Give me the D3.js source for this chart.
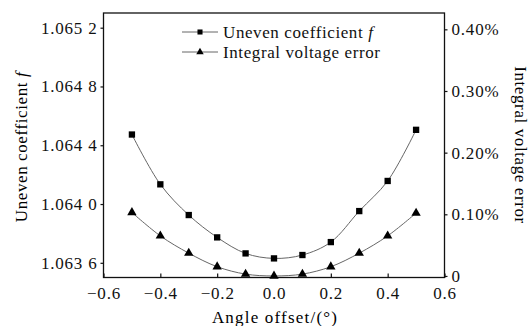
<!DOCTYPE html>
<html>
<head>
<meta charset="utf-8">
<script src="https://cdn.jsdelivr.net/npm/d3@7"></script>
<style>
  html, body { margin: 0; padding: 0; background: #fff; }
  svg { display: block; }
  svg text { font-family: "Times New Roman", Times, "Liberation Serif", "DejaVu Serif", serif; }
  .tick text { font-size: 17px; letter-spacing: 0.8px; fill: #111; }
</style>
</head>
<body>
<div id="chart"></div>
<script>
// angle offset in degrees
const angles = [-0.5, -0.4, -0.3, -0.2, -0.1, 0, 0.1, 0.2, 0.3, 0.4, 0.5];
// uneven coefficient f (left axis)
const uneven = [1.064473, 1.064134, 1.063925, 1.063773, 1.063664, 1.063630,
                1.063653, 1.063741, 1.063952, 1.064157, 1.064505];
// integral voltage error, in percent (right axis)
const voltErr = [0.103, 0.065, 0.037, 0.015, 0.003, 0.0, 0.003, 0.015, 0.037, 0.065, 0.102];

const xTicks = [-0.6, -0.4, -0.2, 0, 0.2, 0.4, 0.6];
const leftTicks = [1.0636, 1.0640, 1.0644, 1.0648, 1.0652];
const leftTickLabels = ['1.063 6', '1.064 0', '1.064 4', '1.064 8', '1.065 2'];
const rightTicks = [0, 0.1, 0.2, 0.3, 0.4];
const rightTickLabels = ['0', '0.10%', '0.20%', '0.30%', '0.40%'];
const seriesNames = ['Uneven coefficient ', 'Integral voltage error'];

const W = 529, H = 326;
const m = { left: 103.5, right: 444.5, top: 13, bottom: 277.5 };
const SERIF = '"Times New Roman", Times, "Liberation Serif", "DejaVu Serif", serif';

const svg = d3.select('#chart').append('svg').attr('width', W).attr('height', H)
  .attr('font-family', SERIF);

const x = d3.scaleLinear().domain([-0.6, 0.6]).range([m.left, m.right]);
const yL = d3.scaleLinear().domain([1.0635, 1.0653]).range([m.bottom, m.top]);
const yR = d3.scaleLinear().domain([-0.0025, 0.4265]).range([m.bottom, m.top]);

// frame
svg.append('rect')
  .attr('x', m.left).attr('y', m.top)
  .attr('width', m.right - m.left).attr('height', m.bottom - m.top)
  .attr('fill', 'none').attr('stroke', '#111').attr('stroke-width', 1.3);

const styleAxis = g => {
  g.attr('font-family', SERIF);
  g.select('.domain').remove();
  g.selectAll('.tick line').attr('stroke', '#111').attr('stroke-width', 1.2);
};

svg.append('g')
  .attr('transform', `translate(0,${m.bottom})`)
  .call(d3.axisBottom(x).tickValues(xTicks).tickSize(-4).tickPadding(9)
    .tickFormat(d3.format('.1f')))
  .call(styleAxis);

svg.append('g')
  .attr('transform', `translate(${m.left},0)`)
  .call(d3.axisLeft(yL).tickValues(leftTicks).tickSize(3).tickPadding(3)
    .tickFormat((d, i) => leftTickLabels[i]))
  .call(styleAxis);

svg.append('g')
  .attr('transform', `translate(${m.right},0)`)
  .call(d3.axisRight(yR).tickValues(rightTicks).tickSize(3).tickPadding(4)
    .tickFormat((d, i) => rightTickLabels[i]))
  .call(styleAxis);

// series (smoothed through the points, like the original plot)
const lineL = d3.line().x((d, i) => x(angles[i])).y(d => yL(d)).curve(d3.curveCatmullRom);
const lineR = d3.line().x((d, i) => x(angles[i])).y(d => yR(d)).curve(d3.curveCatmullRom);

svg.append('path').attr('d', lineL(uneven))
  .attr('fill', 'none').attr('stroke', '#666').attr('stroke-width', 1);
svg.append('path').attr('d', lineR(voltErr))
  .attr('fill', 'none').attr('stroke', '#666').attr('stroke-width', 1);

const sq = d3.symbol().type(d3.symbolSquare).size(40);
const tri = d3.symbol().type(d3.symbolTriangle).size(38);

svg.append('g').selectAll('path').data(uneven).join('path')
  .attr('transform', (d, i) => `translate(${x(angles[i])},${yL(d)})`)
  .attr('d', sq).attr('fill', '#000');
svg.append('g').selectAll('path').data(voltErr).join('path')
  .attr('transform', (d, i) => `translate(${x(angles[i])},${yR(d)})`)
  .attr('d', tri).attr('fill', '#000');

// legend
const lg = svg.append('g').attr('font-size', 17).attr('fill', '#111');
[[sq, 32], [tri, 52]].forEach(([sym, ly], i) => {
  lg.append('line').attr('x1', 182).attr('x2', 218).attr('y1', ly).attr('y2', ly)
    .attr('stroke', '#666').attr('stroke-width', 1);
  lg.append('path').attr('d', sym).attr('transform', `translate(200,${ly}) scale(0.8)`).attr('fill', '#000');
  const t = lg.append('text').attr('x', 223).attr('y', ly).attr('dy', '0.35em')
    .attr('letter-spacing', 0.6).text(seriesNames[i]);
  if (i === 0) t.append('tspan').attr('font-style', 'italic').text('f');
});

// axis titles
svg.append('text')
  .attr('x', 275).attr('y', 317).attr('dy', '0.35em')
  .attr('text-anchor', 'middle').attr('font-size', 17).attr('letter-spacing', 1.2)
  .text('Angle offset/(°)');

const lt = svg.append('text')
  .attr('transform', 'translate(21,147) rotate(-90)').attr('dy', '0.35em')
  .attr('text-anchor', 'middle').attr('font-size', 17).attr('letter-spacing', 0.6)
  .text('Uneven coefficient ');
lt.append('tspan').attr('font-style', 'italic').text('f');

svg.append('text')
  .attr('transform', 'translate(521,145) rotate(90)').attr('dy', '0.35em')
  .attr('text-anchor', 'middle').attr('font-size', 17).attr('letter-spacing', 0.6)
  .text('Integral voltage error');
</script>
</body>
</html>
